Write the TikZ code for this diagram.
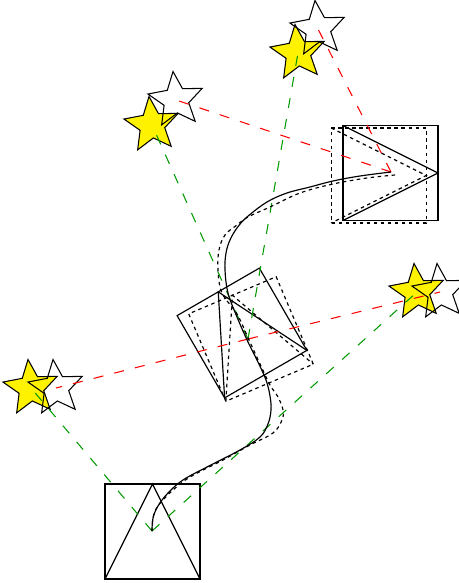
\documentclass[tikz,border=0pt]{standalone}
\usepackage{xcolor}
\usepackage{tikz}
\usetikzlibrary{shapes.geometric}

\begin{document}
\begin{tikzpicture}[x=0.03cm,y=-0.03cm,
    truestar/.style={star,star points=5,star point ratio=2.2,minimum size=1.72cm,inner sep=0pt,draw=black,fill=yellow,line width=0.9pt,rotate=6},
    eststar/.style={truestar,fill=none},
    obs/.style={line width=0.9pt,dash pattern=on 0.3cm off 0.34cm},
    realpose/.style={line width=1pt},
    estpose/.style={line width=1pt,dashed}]
    \useasboundingbox (0,0) rectangle (459,583);
    % robot poses (square with triangle pointing forward)
    \foreach \cx/\cy/\ang/\sty in {152.5/531.5/90/realpose, 242/333/120/realpose, 251/339/113/estpose, 390.5/173/0/realpose, 378.7/175.5/0/estpose}{
        \begin{scope}[shift={(\cx,\cy)},rotate=\ang]
            \draw[\sty] (-47.5,-47.5)--(47.5,-47.5)--(47.5,47.5)--(-47.5,47.5)--cycle;
            \draw[\sty] (-47.5,-47.5)--(47.5,0)--(-47.5,47.5);
        \end{scope}
    }
    \coordinate (p0) at (152,531);
    \coordinate (p1) at (248,339);
    \coordinate (p2) at (391,172);
    % landmarks: true (yellow) and estimated (white)
    \node[truestar] (t1) at (31,388) {};
    \node[truestar] (t2) at (152,125) {};
    \node[truestar] (t3) at (298,53) {};
    \node[truestar] (t4) at (417,292) {};
    \node[eststar] (e1) at (56,388) {};
    \node[eststar] (e2) at (176,100) {};
    \node[eststar] (e3) at (318,29) {};
    \node[eststar] (e4) at (440,292) {};
    % observations
    \draw[obs,green!60!black] (p0)--(t1.center);
    \draw[obs,green!60!black] (p0)--(t4.center);
    \draw[obs,green!60!black] (p1)--(t2.center);
    \draw[obs,green!60!black] (p1)--(t3.center);
    \draw[obs,red] (p1)--(e1.center);
    \draw[obs,red] (p1)--(e4.center);
    \draw[obs,red] (p2)--(e2.center);
    \draw[obs,red] (p2)--(e3.center);
    % trajectories
    \draw[realpose] plot[smooth,tension=0.6] coordinates {(152,531) (153,518) (158,506) (168,493) (183,480) (207,467) (240,450) (260,437) (268,424) (271,410) (270,396) (266,380) (257,360) (248,342) (237,317) (228,293) (225,270) (226,253) (230,240) (237,228) (247,217) (267,202) (287,193) (310,187) (333,181) (360,176) (391,172)};
    \draw[estpose] plot[smooth,tension=0.6] coordinates {(152,531) (153,518) (156,509) (162,501) (173,490) (190,477) (223,460) (250,445) (273,433) (282,420) (283,410) (278,397) (270,385) (260,364) (249,340) (237,314) (222,293) (218,270) (219,250) (225,235) (237,225) (248,217) (270,207) (300,193) (333,184) (367,178) (395,175)};
\end{tikzpicture}
\end{document}
